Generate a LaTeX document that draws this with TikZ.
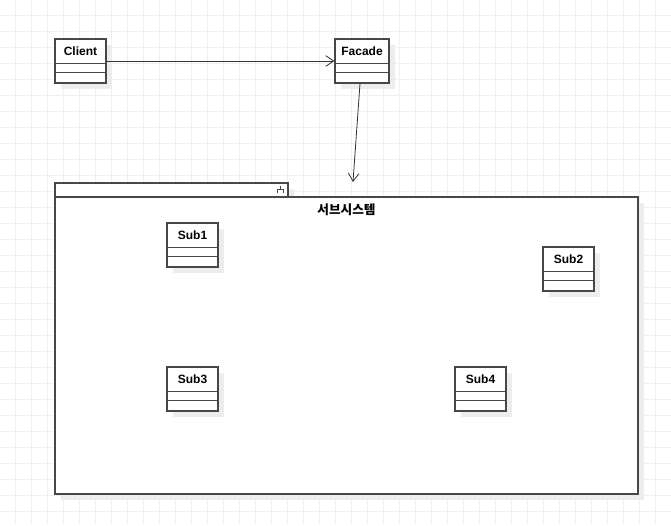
\documentclass[tikz,border=0pt]{standalone}
\usepackage{fontspec}
\setsansfont{Liberation Sans}
\newfontfamily\krfont{Noto Sans CJK KR}
\usetikzlibrary{arrows.meta,calc,fit,shadows}

\tikzset{
  gridline/.style={draw=black!6, line width=0.75pt},
  boxline/.style={draw=black!72, line width=0.85pt},
  classbox/.style={boxline, fill=white, inner sep=0pt,
    drop shadow={shadow xshift=4.5pt, shadow yshift=-4.5pt, fill=black!7, opacity=1}},
  classname/.style={font=\sffamily\bfseries\fontsize{9}{11}\selectfont, inner sep=0pt},
  assoc/.style={draw=black!80, line width=0.6pt, -{Straight Barb[length=6pt,width=8pt]}}
}

% one UML class: name, top left, bottom right, title
\newcommand{\umlclass}[4]{%
  \node[classbox, fit={#2 #3}] (#1) {};
  \node[classname] (#1-name) at ($(#1.north)+(0,12.5)$) {#4};
  \draw[boxline] ($(#1.north west)+(0,25)$) -- ($(#1.north east)+(0,25)$);
  \draw[boxline] ($(#1.north west)+(0,34)$) -- ($(#1.north east)+(0,34)$);
}

\begin{document}
\begin{tikzpicture}[x=0.75pt, y=-0.75pt]
  \useasboundingbox (0,0) rectangle (671,525);

  % Background grid
  \foreach \gx in {15,31,...,671}
    \draw[gridline] (\gx,0) -- (\gx,525);
  \foreach \gy in {15,31,...,525}
    \draw[gridline] (0,\gy) -- (671,\gy);

  % Package
  \node[classbox, fit={(55,183) (288,197)}] (pkgtab) {};
  \node[classbox, fit={(55,197) (638,494)}] (pkg) {};
  \node[font=\krfont\bfseries\fontsize{9.5}{11}\selectfont, inner sep=0pt] (pkgname)
    at ($(pkg.north)+(0,13)$) {서브시스템};
  % package icon
  \draw[boxline, line width=0.7pt] (280,186) -- (280,189)
    (277,193) -- (277,189) -- (283.5,189) -- (283.5,193);

  % Classes
  \umlclass{client}{(55,39)}{(106,83)}{Client}
  \umlclass{facade}{(335,39)}{(389,83)}{Facade}
  \umlclass{subone}{(167,223)}{(218,267)}{Sub1}
  \umlclass{subtwo}{(543,247)}{(594,291)}{Sub2}
  \umlclass{subthree}{(167,367)}{(218,411)}{Sub3}
  \umlclass{subfour}{(455,367)}{(506,411)}{Sub4}

  % Associations
  \draw[assoc] (client.east) -- (facade.west);
  \coordinate (pkgin) at (353,182);
  \draw[assoc] ($(facade.south)+(-2,0)$) -- (pkgin);
\end{tikzpicture}
\end{document}
